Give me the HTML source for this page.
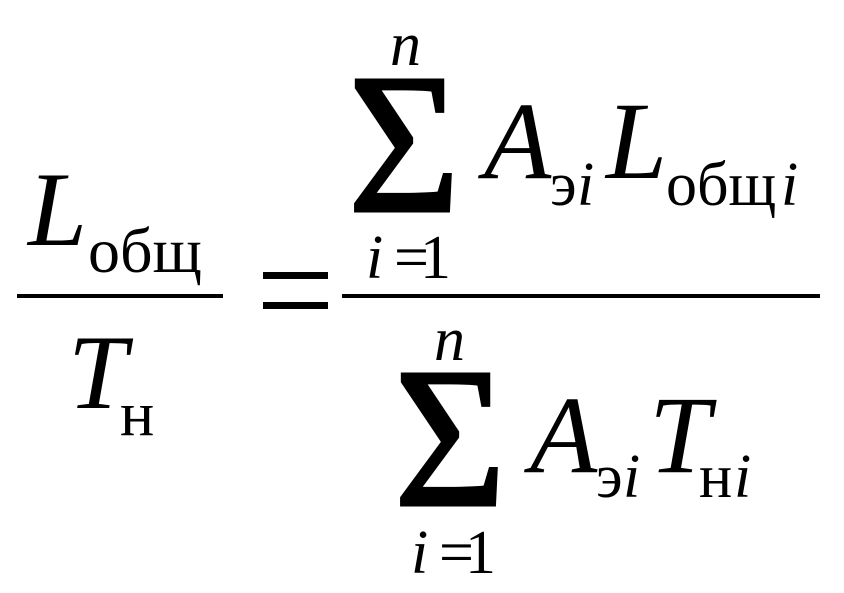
<!DOCTYPE html>
<html><head><meta charset="utf-8"><style>
html,body{margin:0;padding:0;background:#fff;}
svg{display:block;}
text{font-family:"Liberation Serif",serif;fill:#000;}
.i{font-style:italic;}
</style></head><body>
<svg width="844" height="593" viewBox="0 0 844 593" xmlns="http://www.w3.org/2000/svg">
<text class="i" x="28" y="245" font-size="106">L</text>
<text x="88" y="272" font-size="64">общ</text>
<rect x="17" y="294" width="206" height="4"/>
<text class="i" x="68" y="408" font-size="106">T</text>
<text x="120" y="435" font-size="64">н</text>
<rect x="263" y="272" width="65" height="7"/>
<rect x="263" y="302" width="65" height="7"/>
<rect x="342" y="294" width="478" height="4"/>
<text class="i" x="390" y="65" font-size="62">n</text>
<text x="348" y="211" font-size="200" stroke="#000" stroke-width="3" textLength="112" lengthAdjust="spacingAndGlyphs">Σ</text>
<text class="i" x="366" y="278" font-size="62">i</text>
<text x="394" y="278" font-size="62">=</text>
<text x="420" y="278" font-size="62">1</text>
<text class="i" x="484" y="178" font-size="110">A</text>
<text x="550" y="205" font-size="62">э</text>
<text class="i" x="577" y="205" font-size="62">i</text>
<text class="i" x="606" y="178" font-size="110">L</text>
<text x="666" y="205" font-size="62">общ</text>
<text class="i" x="781" y="205" font-size="62">i</text>
<text class="i" x="434" y="360" font-size="62">n</text>
<text x="394" y="505" font-size="200" stroke="#000" stroke-width="3" textLength="112" lengthAdjust="spacingAndGlyphs">Σ</text>
<text class="i" x="411" y="573" font-size="62">i</text>
<text x="439" y="573" font-size="62">=</text>
<text x="465" y="573" font-size="62">1</text>
<text class="i" x="530" y="472" font-size="110">A</text>
<text x="596" y="497" font-size="62">э</text>
<text class="i" x="623" y="497" font-size="62">i</text>
<text class="i" x="649" y="472" font-size="110">T</text>
<text x="699" y="497" font-size="62">н</text>
<text class="i" x="734" y="497" font-size="62">i</text>
</svg>
</body></html>
